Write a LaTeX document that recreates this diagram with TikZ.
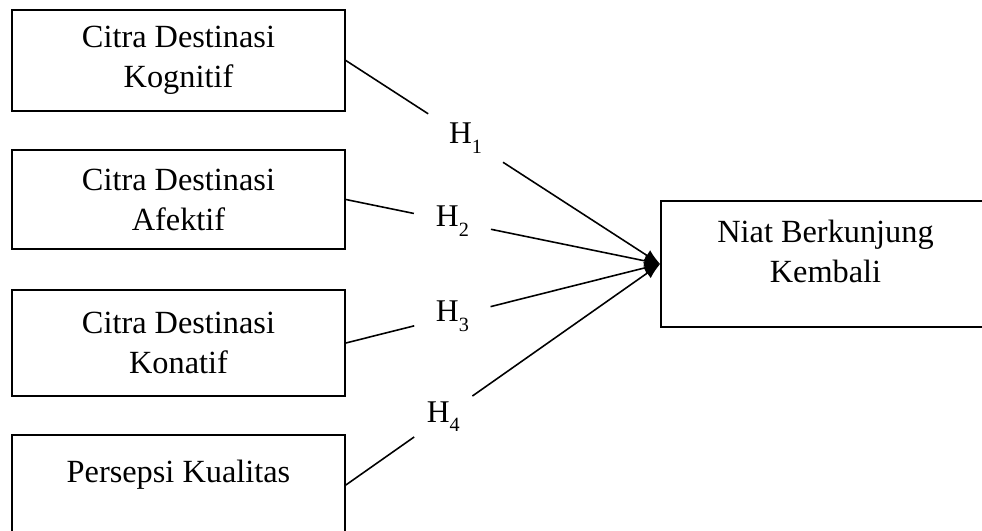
\documentclass[tikz,border=0pt]{standalone}
\usepackage{fontspec}
\setmainfont{Liberation Serif}
\usetikzlibrary{calc, arrows.meta}
\newcommand{\hsub}[1]{\raisebox{-5.5pt}{\fontsize{11.5}{11.5}\selectfont #1}}
\tikzset{
box/.style={draw, rectangle, line width=1pt, minimum width=6.66cm, minimum height=2.02cm, align=center, inner sep=0pt, font=\fontsize{18.4}{22.8}\selectfont},
hyp/.style={circle, inner sep=0pt, minimum size=1.56cm, font=\fontsize{18}{22.8}\selectfont},
link/.style={line width=0.9pt},
tip/.style={line width=0.9pt, -{Latex[length=9pt, width=7pt]}},
}

\begin{document}
\begin{tikzpicture}[x=0.02cm, y=-0.02cm]
            \useasboundingbox (0,0) rectangle (982,530);
            \node[box] (kog) at (178.5,60.5) {Citra Destinasi\\Kognitif};
            \node[box, minimum height=1.98cm] (afe) at (178.5,199.5) {Citra Destinasi\\Afektif};
            \node[box, minimum height=2.12cm] (kon) at (178.5,343) {Citra Destinasi\\Konatif};
            \node[box, minimum height=2cm, text depth=16pt] (kua) at (178.5,485) {Persepsi Kualitas};
            \node[box, minimum width=6.58cm, minimum height=2.52cm, text depth=14pt] (niat) at (825.5,264) {Niat Berkunjung\\Kembali};
            \node[hyp, minimum size=1.77cm] (h1) at ($(kog.east)!0.381!(niat.west)$) {H\hsub{1}};
            \node[hyp] (h2) at ($(afe.east)!0.339!(niat.west)$) {H\hsub{2}};
            \node[hyp] (h3) at ($(kon.east)!0.339!(niat.west)$) {H\hsub{3}};
            \node[hyp, minimum size=1.41cm] (h4) at ($(kua.east)!0.310!(niat.west)$) {H\hsub{4}};
            \draw[link] (kog.east)--(h1);
            \draw[tip] (h1)--(niat.west);
            \draw[link] (afe.east)--(h2);
            \draw[tip] (h2)--(niat.west);
            \draw[link] (kon.east)--(h3);
            \draw[tip] (h3)--(niat.west);
            \draw[link] (kua.east)--(h4);
            \draw[tip] (h4)--(niat.west);
        \end{tikzpicture}
\end{document}
